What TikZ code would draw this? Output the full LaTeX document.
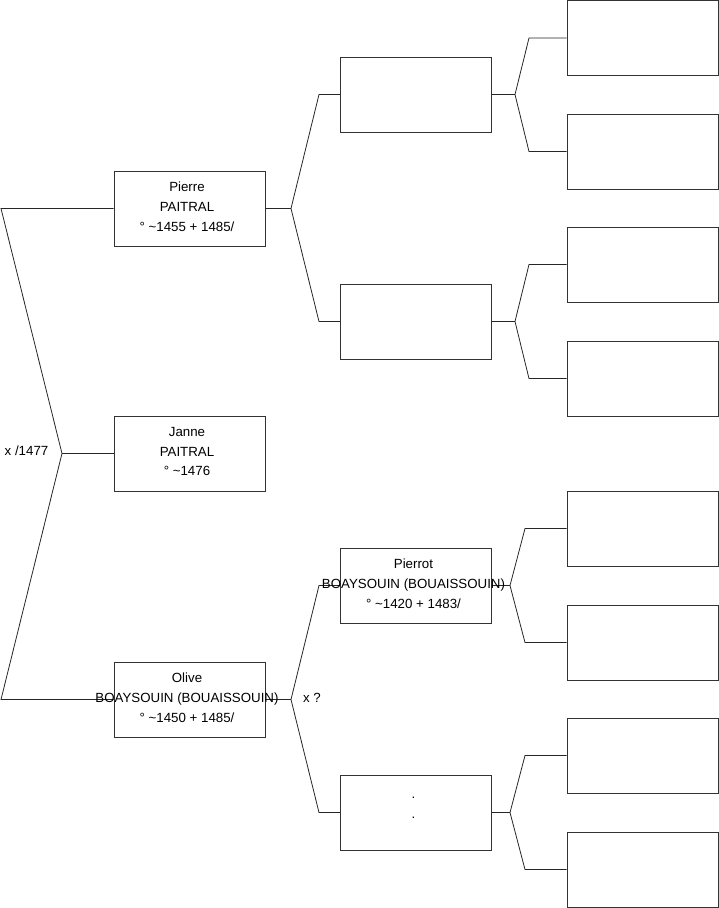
\documentclass[tikz,border=0pt]{standalone}
\usepackage{fontspec}
\setmainfont{Liberation Sans}
\begin{document}
\begin{tikzpicture}[x=1pt,y=-1pt,
  pbox/.style={draw=black!80,line width=0.8pt,minimum width=151pt,minimum height=75pt,inner sep=0pt},
  ptext/.style={align=center,font=\fontsize{13.3}{19.8}\selectfont,inner sep=0pt},
  conn/.style={draw=black!85,line width=0.8pt},
  lbl/.style={font=\fontsize{13.3}{15}\selectfont,inner sep=0pt}]
\useasboundingbox (0,0) rectangle (719,908);
% generation 1
\node[pbox] (p) at (189.5,208.5) {};
\node[pbox] (j) at (189.5,453.5) {};
\node[pbox] (o) at (189.5,699.5) {};
% generation 2
\node[pbox] (ga) at (416,94.5) {};
\node[pbox] (gb) at (416,321.5) {};
\node[pbox] (gc) at (416,585.5) {};
\node[pbox] (gd) at (416,812.5) {};
% generation 3
\node[pbox] (ha) at (642.5,38) {};
\node[pbox] (hb) at (642.5,151.5) {};
\node[pbox] (hc) at (642.5,264.5) {};
\node[pbox] (hd) at (642.5,378.5) {};
\node[pbox] (he) at (642.5,528.5) {};
\node[pbox] (hf) at (642.5,642.5) {};
\node[pbox] (hg) at (642.5,755.5) {};
\node[pbox] (hh) at (642.5,869.5) {};
% fork coordinates
\coordinate (f0) at (62,453.5);
\coordinate (f0a) at (1,208.5);
\coordinate (f0b) at (1,699.5);
\coordinate (fp) at (291,208.5);
\coordinate (fpa) at (319,94.5);
\coordinate (fpb) at (319,321.5);
\coordinate (fo) at (291,699.5);
\coordinate (foa) at (319,585.5);
\coordinate (fob) at (319,812.5);
\coordinate (fga) at (515,94.5);
\coordinate (fgaa) at (529,38);
\coordinate (fgab) at (529,151.5);
\coordinate (fgb) at (515,321.5);
\coordinate (fgba) at (529,264.5);
\coordinate (fgbb) at (529,378.5);
\coordinate (fgc) at (510,585.5);
\coordinate (fgca) at (525,528.5);
\coordinate (fgcb) at (525,642.5);
\coordinate (fgd) at (510,812.5);
\coordinate (fgda) at (525,755.5);
\coordinate (fgdb) at (525,869.5);
% connectors
\path[conn] (p.west) -- (f0a) -- (f0) -- (f0b) -- (o.west);
\path[conn] (f0) -- (j.west);
\path[conn] (p.east) -- (fp);
\path[conn] (ga.west) -- (fpa) -- (fp) -- (fpb) -- (gb.west);
\path[conn] (o.east) -- (fo);
\path[conn] (gc.west) -- (foa) -- (fo) -- (fob) -- (gd.west);
\path[conn] (ga.east) -- (fga);
\path[conn] (ha.west) -- (fgaa) -- (fga) -- (fgab) -- (hb.west);
\path[conn] (gb.east) -- (fgb);
\path[conn] (hc.west) -- (fgba) -- (fgb) -- (fgbb) -- (hd.west);
\path[conn] (gc.east) -- (fgc);
\path[conn] (he.west) -- (fgca) -- (fgc) -- (fgcb) -- (hf.west);
\path[conn] (gd.east) -- (fgd);
\path[conn] (hg.west) -- (fgda) -- (fgd) -- (fgdb) -- (hh.west);
% texts
\node[ptext] (tp) at ([xshift=-2.5pt,yshift=2pt]p.center) {Pierre\\PAITRAL\\° \textasciitilde1455 + 1485/};
\node[ptext] (tj) at ([xshift=-2.5pt,yshift=2pt]j.center) {Janne\\PAITRAL\\° \textasciitilde1476};
\node[ptext] (to) at ([xshift=-2.5pt,yshift=2pt]o.center) {Olive\\BOAYSOUIN (BOUAISSOUIN)\\° \textasciitilde1450 + 1485/};
\node[ptext] (tgc) at ([xshift=-2.5pt,yshift=2pt]gc.center) {Pierrot\\BOAYSOUIN (BOUAISSOUIN)\\° \textasciitilde1420 + 1483/};
\node[ptext,anchor=base] (tgd) at ([xshift=-2.5pt,yshift=-5.5pt]gd.center) {.\\.};
\node[lbl] (m1) at (26.5,451) {x /1477};
\node[lbl] (m2) at (312,698) {x ?};
\end{tikzpicture}
\end{document}
